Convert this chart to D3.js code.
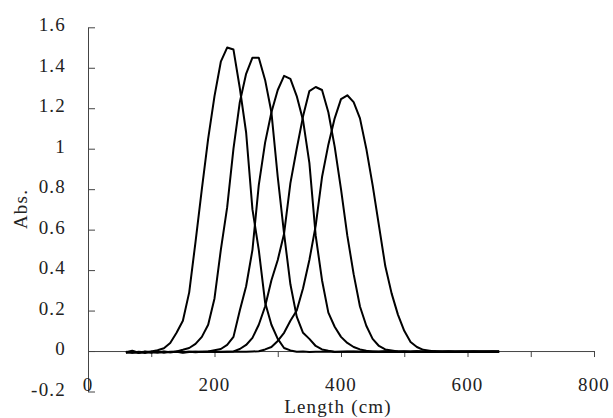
<!DOCTYPE html>
<html>
<head>
<meta charset="utf-8">
<script src="https://cdn.jsdelivr.net/npm/d3@7"></script>
<style>
  body { margin: 0; background: #fff; }
  text { font-family: "Liberation Serif", "DejaVu Serif", serif; font-size: 19px; fill: #222; letter-spacing: 1.2px; }
</style>
</head>
<body>
<svg id="chart" width="613" height="418"></svg>
<script>
// shared x grid (cm)
const lengths = [60, 70, 80, 90, 100, 110, 120, 130, 140, 150, 160, 170, 180, 190, 200, 210, 220, 230, 240, 250,
                 260, 270, 280, 290, 300, 310, 320, 330, 340, 350, 360, 370, 380, 390, 400, 410, 420, 430, 440, 450,
                 460, 470, 480, 490, 500, 510, 520, 530, 540, 550, 560, 570, 580, 590, 600, 610, 620, 630, 640, 650];

// absorbance of each run
const abs1 = [-0.006, 0.002, -0.008, -0.004, -0.002, 0.004, 0.014, 0.04, 0.09, 0.15, 0.29, 0.54, 0.80, 1.05, 1.26, 1.43, 1.50, 1.49, 1.30, 1.08,
              0.70, 0.50, 0.24, 0.13, 0.06, 0.015, 0.003, -0.004, -0.002, -0.005, -0.003, -0.004, -0.002, -0.005, -0.003, -0.004, -0.002, -0.003, -0.004, -0.002,
              -0.003, -0.002, -0.004, -0.003, -0.002, -0.003, -0.002, -0.004, -0.003, -0.002, -0.003, -0.002, -0.003, -0.002, -0.003, -0.002, -0.003, -0.002, -0.003, -0.002];
const abs2 = [-0.008, -0.004, -0.01, -0.003, -0.006, -0.004, -0.008, -0.003, -0.002, 0.006, 0.015, 0.035, 0.07, 0.13, 0.26, 0.50, 0.71, 1.00, 1.23, 1.37,
              1.45, 1.45, 1.34, 1.18, 0.86, 0.58, 0.33, 0.17, 0.09, 0.06, 0.025, 0.008, 0.002, -0.003, -0.004, -0.002, -0.003, -0.004, -0.002, -0.003,
              -0.004, -0.002, -0.003, -0.002, -0.004, -0.003, -0.002, -0.003, -0.002, -0.003, -0.002, -0.004, -0.003, -0.002, -0.003, -0.002, -0.003, -0.002, -0.003, -0.002];
const abs3 = [-0.004, -0.009, -0.005, -0.01, -0.004, -0.007, -0.003, -0.006, -0.004, -0.008, -0.005, -0.004, -0.003, -0.002, 0.004, 0.01, 0.03, 0.07, 0.20, 0.32,
              0.50, 0.82, 1.03, 1.18, 1.29, 1.36, 1.345, 1.26, 1.14, 0.93, 0.57, 0.35, 0.19, 0.12, 0.07, 0.04, 0.02, 0.008, 0.002, -0.003,
              -0.004, -0.002, -0.003, -0.004, -0.002, -0.003, -0.002, -0.004, -0.003, -0.002, -0.003, -0.002, -0.004, -0.003, -0.002, -0.003, -0.002, -0.003, -0.002, -0.003];
const abs4 = [-0.007, -0.003, -0.006, -0.004, -0.009, -0.005, -0.004, -0.006, -0.003, -0.005, -0.004, -0.006, -0.003, -0.004, -0.005, -0.003, -0.004, -0.002, 0.01, 0.03,
              0.065, 0.13, 0.22, 0.35, 0.45, 0.58, 0.83, 1.00, 1.16, 1.285, 1.305, 1.29, 1.18, 1.01, 0.80, 0.57, 0.38, 0.22, 0.125, 0.06,
              0.025, 0.008, 0.003, -0.002, -0.003, -0.004, -0.002, -0.003, -0.004, -0.002, -0.003, -0.002, -0.004, -0.003, -0.002, -0.003, -0.002, -0.003, -0.002, -0.003];
const abs5 = [-0.005, -0.008, -0.004, -0.006, -0.003, -0.007, -0.004, -0.005, -0.003, -0.006, -0.004, -0.003, -0.005, -0.004, -0.003, -0.005, -0.004, -0.003, -0.004, -0.003,
              -0.002, -0.001, 0.008, 0.02, 0.05, 0.09, 0.15, 0.20, 0.31, 0.45, 0.62, 0.86, 1.02, 1.15, 1.245, 1.264, 1.23, 1.15, 1.00, 0.82,
              0.62, 0.42, 0.285, 0.18, 0.10, 0.045, 0.02, 0.006, 0.002, -0.002, -0.003, -0.004, -0.002, -0.003, -0.004, -0.002, -0.003, -0.004, -0.002, -0.003];

const xTicks = [0, 100, 200, 300, 400, 500, 600, 700, 800];
const xLabels = [0, 200, 400, 600, 800];
const yTicks = [-0.2, 0, 0.2, 0.4, 0.6, 0.8, 1, 1.2, 1.4, 1.6];
const yLabels = ["-0.2", "0", "0.2", "0.4", "0.6", "0.8", "1", "1.2", "1.4", "1.6"];

const svg = d3.select("#chart");
const x = d3.scaleLinear().domain([0, 800]).range([88, 594]);
const y = d3.scaleLinear().domain([-0.2, 1.6]).range([391.5, 27.3]);

// y axis along x = 0, ticks pointing into the plot
svg.append("g")
    .attr("transform", `translate(${x(0)},0)`)
    .call(d3.axisRight(y).tickValues(yTicks).tickSize(7).tickSizeOuter(0).tickFormat(""))
    .call(g => g.selectAll("path, line").attr("stroke", "#444"));

// x axis along y = 0, ticks pointing down
svg.append("g")
    .attr("transform", `translate(0,${y(0)})`)
    .call(d3.axisBottom(x).tickValues(xTicks).tickSize(6).tickSizeOuter(0).tickFormat(""))
    .call(g => g.selectAll("path, line").attr("stroke", "#444"));

// tick labels
svg.append("g").selectAll("text").data(yTicks)
    .join("text")
    .attr("x", 66)
    .attr("y", d => y(d) + 4)
    .attr("text-anchor", "end")
    .text((d, i) => yLabels[i]);

svg.append("g").selectAll("text").data(xLabels)
    .join("text")
    .attr("x", d => x(d))
    .attr("y", 391)
    .attr("text-anchor", "middle")
    .text(d => d);

// axis titles
svg.append("text")
    .attr("x", 338)
    .attr("y", 413)
    .attr("text-anchor", "middle")
    .text("Length (cm)");

svg.append("text")
    .attr("transform", "translate(27,209) rotate(-90)")
    .attr("text-anchor", "middle")
    .text("Abs.");

// curves
const line = d3.line()
    .x((d, i) => x(lengths[i]))
    .y(d => y(d));

svg.append("g").selectAll("path")
    .data([abs1, abs2, abs3, abs4, abs5])
    .join("path")
    .attr("d", line)
    .attr("fill", "none")
    .attr("stroke", "#000")
    .attr("stroke-width", 2)
    .attr("stroke-linejoin", "round");
</script>
</body>
</html>
